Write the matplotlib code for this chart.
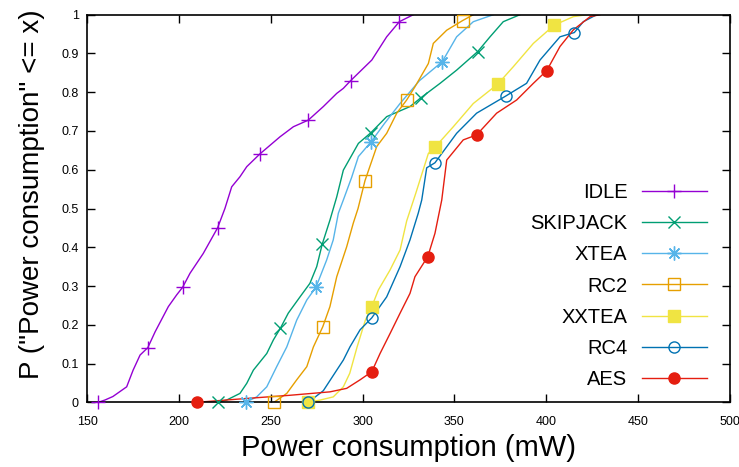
import matplotlib
matplotlib.use("Agg")
import matplotlib.pyplot as plt
from matplotlib.legend_handler import HandlerTuple

plt.rcParams['font.family'] = ['Liberation Sans', 'DejaVu Sans']

# CDF curves: power (mW) and cumulative probability
idle_x = [156, 159.7, 164, 171.5, 175, 178.8, 183, 187, 194.2, 198.7, 202, 206, 213.2, 221, 225,
          228.7, 233.2, 236.9, 244.1, 255, 262.3, 270.4, 278.6, 285.9, 289.5, 293.5, 305, 313.1, 320, 327.6]
idle_y = [0, 0.006, 0.015, 0.04, 0.083, 0.122, 0.141, 0.182, 0.247, 0.277, 0.297, 0.333, 0.384, 0.45, 0.5,
          0.556, 0.582, 0.608, 0.641, 0.685, 0.711, 0.728, 0.763, 0.797, 0.81, 0.83, 0.883, 0.943, 0.982, 1.0]

skipjack_x = [221.1, 226, 233.2, 236.9, 240.5, 247.8, 251.4, 255.2, 259.5, 265.9, 271.3, 275, 278, 282.2,
              285.9, 289.5, 297.7, 304.6, 313.1, 325.8, 331.8, 342.2, 351.2, 362.7, 369.4, 376.6, 385.7]
skipjack_y = [0, 0.006, 0.023, 0.049, 0.083, 0.126, 0.161, 0.191, 0.23, 0.272, 0.307, 0.35, 0.408, 0.47,
              0.53, 0.599, 0.668, 0.696, 0.737, 0.763, 0.786, 0.823, 0.857, 0.905, 0.943, 0.982, 1.0]

xtea_x = [236.3, 242.3, 247.8, 253.2, 258.7, 264.1, 269.6, 274.6, 280.4, 284, 286.8, 289.5, 294, 297.7,
          304.6, 312, 320.4, 331, 343.4, 351.2, 360.3, 371.2]
xtea_y = [0, 0.014, 0.04, 0.092, 0.143, 0.212, 0.264, 0.297, 0.367, 0.419, 0.488, 0.522, 0.58, 0.634,
          0.672, 0.72, 0.771, 0.83, 0.879, 0.943, 0.982, 1.0]

rc2_x = [251.7, 258.7, 264.1, 269.6, 273.2, 278.3, 282.2, 285.9, 291.3, 294.9, 297.5, 301.3, 307.7, 313.1,
         318.6, 324, 328.5, 335.8, 338.5, 345.8, 354.5, 360.3]
rc2_y = [0, 0.023, 0.058, 0.092, 0.143, 0.195, 0.247, 0.324, 0.401, 0.462, 0.5, 0.572, 0.66, 0.694,
         0.746, 0.78, 0.814, 0.874, 0.926, 0.96, 0.985, 1.0]

xxtea_x = [270.4, 277, 284, 289.5, 293, 297, 301.5, 305, 308.6, 314.9, 320.4, 324, 329, 335.8, 339.4,
           349.4, 360.3, 373.6, 382.1, 393, 404.3, 414.8, 422]
xxtea_y = [0, 0.006, 0.014, 0.04, 0.075, 0.143, 0.212, 0.247, 0.29, 0.341, 0.393, 0.468, 0.54, 0.642, 0.658,
           0.711, 0.771, 0.821, 0.866, 0.926, 0.973, 0.995, 1.0]

rc4_x = [270.4, 278.6, 285.9, 289.5, 293.1, 298.6, 305, 313.1, 320.4, 325.8, 330.3, 332.2, 334.9, 339.4,
         351.2, 362.1, 377.9, 389.3, 396.6, 407.5, 415.3, 420.2, 427.5]
rc4_y = [0, 0.03, 0.083, 0.109, 0.143, 0.187, 0.218, 0.272, 0.35, 0.419, 0.488, 0.522, 0.605, 0.618,
         0.694, 0.746, 0.79, 0.823, 0.883, 0.943, 0.954, 0.982, 1.0]

aes_x = [209.6, 236.9, 260, 282.2, 291.3, 298.6, 305, 309.5, 315, 320.4, 325.8, 328.5, 335.5, 339.4,
         343.1, 345.8, 354.8, 362.1, 373, 383.9, 393, 400.3, 407.5, 414.8, 423.9, 429.3]
aes_y = [0, 0.01, 0.018, 0.027, 0.036, 0.058, 0.079, 0.126, 0.178, 0.23, 0.281, 0.324, 0.376, 0.436,
         0.522, 0.625, 0.677, 0.69, 0.746, 0.78, 0.823, 0.856, 0.918, 0.961, 0.995, 1.0]

# points where gnuplot put the symbols
idle_mx = [156, 183, 202, 221, 244.1, 270.4, 293.5, 320]
idle_my = [0, 0.141, 0.297, 0.45, 0.641, 0.728, 0.83, 0.982]
skipjack_mx = [221.1, 255.2, 278, 304.6, 331.8, 362.7]
skipjack_my = [0, 0.191, 0.408, 0.696, 0.786, 0.905]
xtea_mx = [236.3, 274.6, 304.6, 343.4]
xtea_my = [0, 0.297, 0.672, 0.879]
rc2_mx = [251.7, 278.3, 301.3, 324, 354.5]
rc2_my = [0, 0.195, 0.572, 0.78, 0.985]
xxtea_mx = [270.4, 305, 339.4, 373.6, 404.3]
xxtea_my = [0, 0.247, 0.658, 0.821, 0.973]
rc4_mx = [270.4, 305, 339.4, 377.9, 415.3]
rc4_my = [0, 0.218, 0.618, 0.79, 0.954]
aes_mx = [209.6, 305, 335.5, 362.1, 400.3]
aes_my = [0, 0.079, 0.376, 0.69, 0.856]

names = ["IDLE", "SKIPJACK", "XTEA", "RC2", "XXTEA", "RC4", "AES"]
curves = [(idle_x, idle_y), (skipjack_x, skipjack_y), (xtea_x, xtea_y), (rc2_x, rc2_y),
          (xxtea_x, xxtea_y), (rc4_x, rc4_y), (aes_x, aes_y)]
marks = [(idle_mx, idle_my), (skipjack_mx, skipjack_my), (xtea_mx, xtea_my), (rc2_mx, rc2_my),
         (xxtea_mx, xxtea_my), (rc4_mx, rc4_my), (aes_mx, aes_my)]
colors = ["#9400d3", "#009e73", "#56b4e9", "#e69f00", "#f0e442", "#0072b2", "#e51e10"]
styles = [dict(marker="+", ms=10, mew=1.0, mfc="none"),
          dict(marker="x", ms=8, mew=1.0, mfc="none"),
          dict(marker=(8, 2, 0), ms=10, mew=1.0, mfc="none"),
          dict(marker="s", ms=8, mew=1.0, mfc="none"),
          dict(marker="s", ms=8, mew=1.0),
          dict(marker="o", ms=8, mew=1.0, mfc="none"),
          dict(marker="o", ms=8, mew=1.0)]

fig = plt.figure(figsize=(7.39, 4.67), dpi=100)
ax = fig.add_axes([0.118, 0.1385, 0.8696, 0.83])

handles = []
for (cx, cy), (mx, my), c, st in zip(curves, marks, colors, styles):
    ln, = ax.plot(cx, cy, color=c, lw=1.0, zorder=2)
    mk, = ax.plot(mx, my, ls="none", color=c, mec=c, zorder=3, clip_on=False, **st)
    handles.append((ln, mk))

ax.set_xlim(150, 500)
ax.set_ylim(0, 1)
ax.set_xticks(range(150, 501, 50))
ax.set_yticks([i / 10 for i in range(11)])
ax.set_yticklabels(["0", "0.1", "0.2", "0.3", "0.4", "0.5", "0.6", "0.7", "0.8", "0.9", "1"])
ax.tick_params(direction="in", top=True, right=True, length=6, width=1.0, labelsize=9)
ax.tick_params(axis="x", pad=10)
ax.tick_params(axis="y", pad=6)
for s in ax.spines.values():
    s.set_linewidth(1.2)

ax.set_xlabel("Power consumption (mW)", fontsize=21)
ax.xaxis.set_label_coords(0.5, -0.082)
ax.xaxis.label.set_va("top")
ax.set_ylabel('P ("Power consumption" <= x)', fontsize=20)
ax.yaxis.set_label_coords(-0.066, 0.536)

ax.legend(handles, names, handler_map={tuple: HandlerTuple(ndivide=1)},
          loc="center right", bbox_to_anchor=(0.9645, 0.30), frameon=False,
          markerfirst=False, fontsize=14.5, handlelength=3.25, handletextpad=0.7,
          labelspacing=0.6, borderpad=0, borderaxespad=0)

fig.savefig("out.png", dpi=100)
